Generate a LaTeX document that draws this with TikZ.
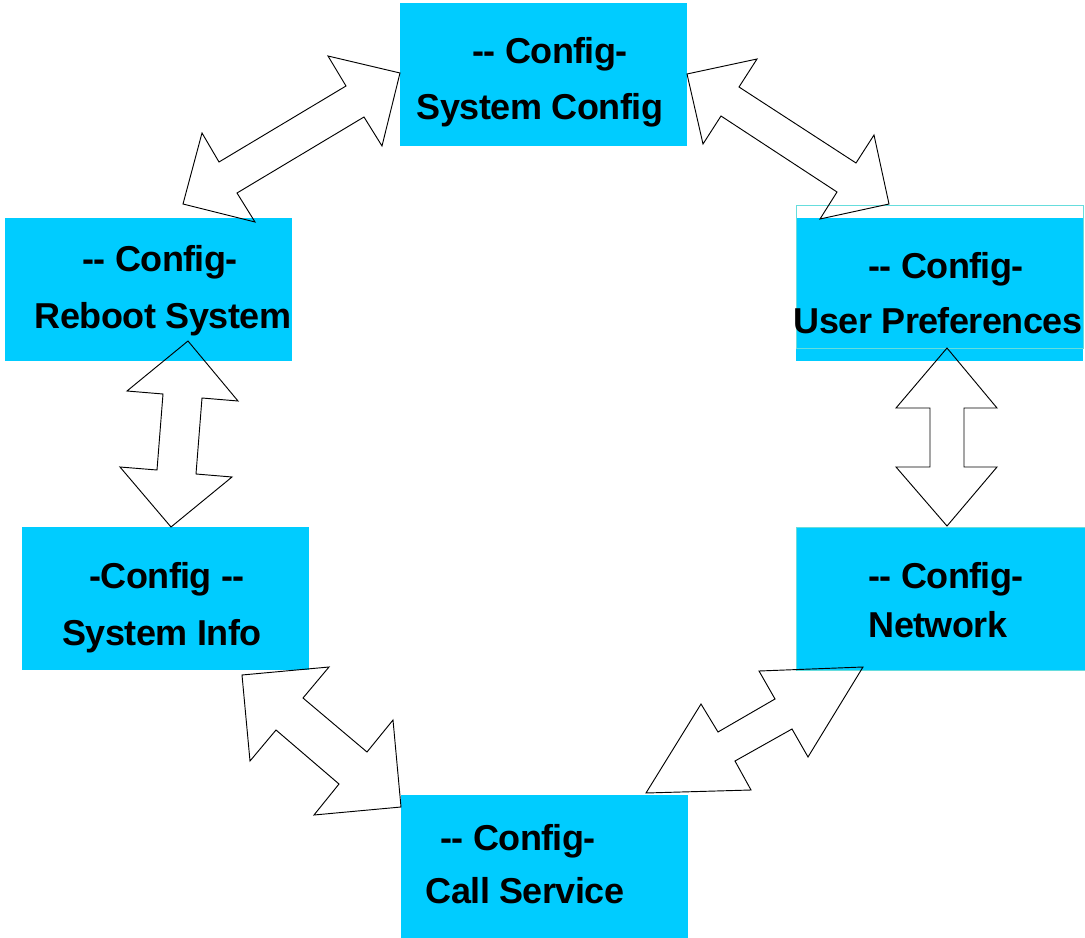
\documentclass[tikz,border=0pt]{standalone}
\usepackage{fontspec}
\setmainfont{Liberation Sans}[LetterSpace=-1.5]
\begin{document}
\begin{tikzpicture}[x=0.75pt,y=-0.75pt,
  box/.style={rectangle,fill=boxcyan,draw=none,inner sep=0pt,minimum width=215.25pt,minimum height=107.25pt},
  lbl/.style={anchor=base,inner sep=0pt,font=\fontsize{27}{30}\selectfont\bfseries,text=black},
  blockarrow/.style={draw=black,line width=0.7pt,line join=miter}]
\definecolor{boxcyan}{HTML}{00CCFF}
\definecolor{frameteal}{HTML}{66DDDD}
\useasboundingbox (0,0) rectangle (1085,938);
\fill[white] (0,0) rectangle (1085,938);
% boxes
\node[box] (b1) at (543.5,74.5) {};
\node[box] (b2) at (148,289.5) {};
\node[box] (b3) at (939.5,289.5) {};
\draw[frameteal,line width=0.6pt] (796,205) rectangle (1083,348);
\node[box] (b4) at (165.5,598.5) {};
\node[box,minimum width=216.75pt,draw=frameteal,line width=0.6pt] (b5) at (940.5,598.5) {};
\node[box] (b6) at (544.5,866.5) {};
% labels
\node[lbl] (t1a) at (550,64) {-{}- Config-};
\node[lbl] (t1b) at (540,120) {System Config};
\node[lbl] (t2a) at (160,271) {-{}- Config-};
\node[lbl] (t2b) at (163,328) {Reboot System};
\node[lbl] (t3a) at (946,278) {-{}- Config-};
\node[lbl] (t3b) at (938,333) {User Preferences};
\node[lbl] (t4a) at (167,588) {-Config -{}-};
\node[lbl] (t4b) at (162,645) {System Info};
\node[lbl] (t5a) at (946,588) {-{}- Config-};
\node[lbl] (t5b) at (938,637) {Network};
\node[lbl] (t6a) at (518,850) {-{}- Config-};
\node[lbl] (t6b) at (525,903) {Call Service};
% block arrows
\draw[blockarrow] (400,73) -- (328,56) -- (346,86) -- (219,162) -- (202,133) -- (183,204) -- (255,222) -- (237,193) -- (364,117) -- (382,146) -- cycle;
\draw[blockarrow] (687,74) -- (757,59) -- (739,87) -- (856,163) -- (874,135) -- (889,204) -- (820,219) -- (837,192) -- (721,116) -- (703,144) -- cycle;
\draw[blockarrow] (188,341) -- (238,401) -- (202,398) -- (196,474) -- (232,477) -- (171,527) -- (120,467) -- (157,470) -- (163,394) -- (127,391) -- cycle;
\draw[blockarrow] (947,348) -- (997,408) -- (964,408) -- (964,467) -- (997,467) -- (947,526) -- (896,467) -- (930,467) -- (930,408) -- (896,408) -- cycle;
\draw[blockarrow] (242,675) -- (329,667) -- (303,698) -- (367,752) -- (393,720) -- (401,807) -- (314,815) -- (339,784) -- (276,730) -- (250,761) -- cycle;
\draw[blockarrow] (863,667) -- (808,757) -- (792,729) -- (735,761) -- (751,790) -- (646,793) -- (701,704) -- (718,732) -- (775,699) -- (759,671) -- cycle;
\end{tikzpicture}
\end{document}
